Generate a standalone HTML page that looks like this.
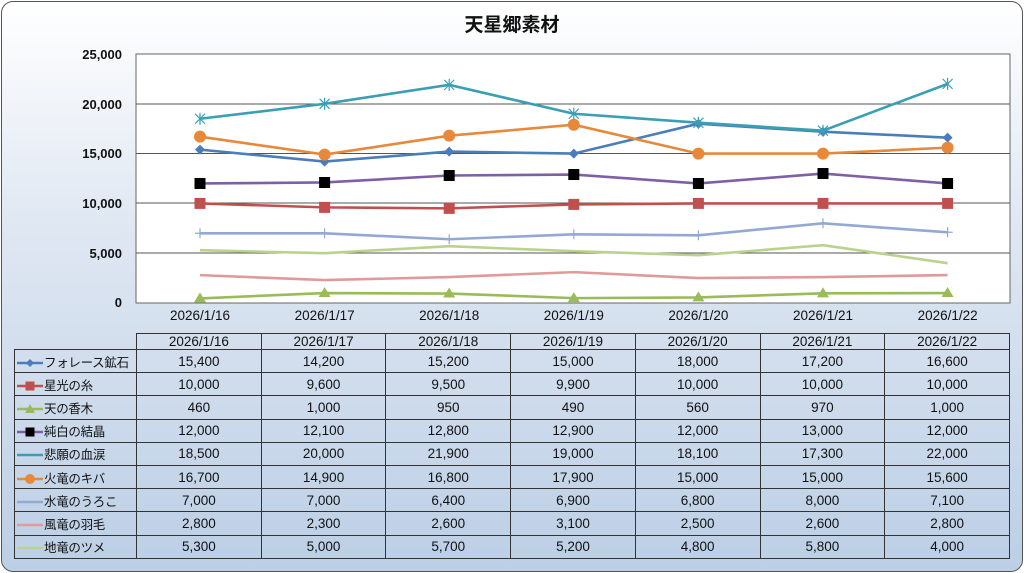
<!DOCTYPE html>
<html><head><meta charset="utf-8">
<style>
html,body{margin:0;padding:0;width:1024px;height:573px;overflow:hidden;background:#fff;}
#wrap{position:absolute;left:1px;top:1px;width:1020px;height:569px;border:1px solid #555;border-radius:12px;
background:linear-gradient(to bottom,#ffffff 0%,#dfe7f2 40%,#bccfe6 100%);overflow:hidden;}
table{position:absolute;left:14px;top:333px;width:996px;table-layout:fixed;border-collapse:collapse;font-family:"Liberation Sans","Noto Sans CJK JP",sans-serif;font-size:13.5px;color:#111;}
td{border:1px solid #333;padding:0;height:22.2px;text-align:center;white-space:nowrap;overflow:hidden;}
tr.h td{height:15px;line-height:14px;}
td.l{text-align:left;font-size:12.5px;letter-spacing:-0.3px;}
svg.m{vertical-align:-1px;margin:0 1px 0 2px;}
</style></head><body>
<div id="wrap"></div>
<svg width="1024" height="573" style="position:absolute;left:0;top:0" id="s">
<text x="512" y="31" text-anchor="middle" font-family="Liberation Sans,Noto Sans CJK JP,sans-serif" font-size="19" font-weight="bold" fill="#111">天星郷素材</text>
<rect x="136" y="54" width="874" height="249" fill="#fff" stroke="#666"/>
<g stroke="#555" stroke-width="1">
<line x1="136" y1="104" x2="1010" y2="104"/><line x1="136" y1="153.5" x2="1010" y2="153.5"/>
<line x1="136" y1="203" x2="1010" y2="203"/><line x1="136" y1="253" x2="1010" y2="253"/>
</g>
<g font-family="Liberation Sans,Noto Sans CJK JP,sans-serif" font-size="13" fill="#111" text-anchor="end" font-weight="bold">
<text x="122" y="59">25,000</text><text x="122" y="109">20,000</text><text x="122" y="158">15,000</text>
<text x="122" y="208">10,000</text><text x="122" y="258">5,000</text><text x="122" y="307">0</text>
</g>
<g font-family="Liberation Sans,Noto Sans CJK JP,sans-serif" font-size="13.5" fill="#111" text-anchor="middle">
<text x="200" y="320">2026/1/16</text><text x="324.6" y="320">2026/1/17</text><text x="449.2" y="320">2026/1/18</text>
<text x="573.8" y="320">2026/1/19</text><text x="698.4" y="320">2026/1/20</text><text x="823" y="320">2026/1/21</text><text x="947.6" y="320">2026/1/22</text>
</g>
<g id="series"></g>
</svg>
<table>
<colgroup><col style="width:122px"><col><col><col><col><col><col><col></colgroup>
<tr class="h"><td style="border:none;border-right:1px solid #333"></td><td>2026/1/16</td><td>2026/1/17</td><td>2026/1/18</td><td>2026/1/19</td><td>2026/1/20</td><td>2026/1/21</td><td>2026/1/22</td></tr>
<tr><td class="l"><svg class="m" width="26" height="10"><line x1="0" y1="5" x2="26" y2="5" stroke="#4a7ebb" stroke-width="2.5"/><polygon points="13,1 17,5 13,9 9,5" fill="#4a7ebb"/></svg>フォレース鉱石</td><td>15,400</td><td>14,200</td><td>15,200</td><td>15,000</td><td>18,000</td><td>17,200</td><td>16,600</td></tr>
<tr><td class="l"><svg class="m" width="26" height="10"><line x1="0" y1="5" x2="26" y2="5" stroke="#c0504d" stroke-width="2.5"/><rect x="8.5" y="0.5" width="9" height="9" fill="#c0504d"/></svg>星光の糸</td><td>10,000</td><td>9,600</td><td>9,500</td><td>9,900</td><td>10,000</td><td>10,000</td><td>10,000</td></tr>
<tr><td class="l"><svg class="m" width="26" height="10"><line x1="0" y1="5" x2="26" y2="5" stroke="#9bbb59" stroke-width="2.5"/><polygon points="13,0 18,9 8,9" fill="#9bbb59"/></svg>天の香木</td><td>460</td><td>1,000</td><td>950</td><td>490</td><td>560</td><td>970</td><td>1,000</td></tr>
<tr><td class="l"><svg class="m" width="26" height="10"><line x1="0" y1="5" x2="26" y2="5" stroke="#7f5fa8" stroke-width="2.5"/><rect x="8.5" y="0.5" width="9" height="9" fill="#000"/></svg>純白の結晶</td><td>12,000</td><td>12,100</td><td>12,800</td><td>12,900</td><td>12,000</td><td>13,000</td><td>12,000</td></tr>
<tr><td class="l"><svg class="m" width="26" height="10"><line x1="0" y1="5" x2="26" y2="5" stroke="#3a9fb5" stroke-width="2.5"/></svg>悲願の血涙</td><td>18,500</td><td>20,000</td><td>21,900</td><td>19,000</td><td>18,100</td><td>17,300</td><td>22,000</td></tr>
<tr><td class="l"><svg class="m" width="26" height="10"><line x1="0" y1="5" x2="26" y2="5" stroke="#e8883a" stroke-width="2.5"/><circle cx="13" cy="5" r="5" fill="#e8883a"/></svg>火竜のキバ</td><td>16,700</td><td>14,900</td><td>16,800</td><td>17,900</td><td>15,000</td><td>15,000</td><td>15,600</td></tr>
<tr><td class="l"><svg class="m" width="26" height="10"><line x1="0" y1="5" x2="26" y2="5" stroke="#93a9d4" stroke-width="2.5"/></svg>水竜のうろこ</td><td>7,000</td><td>7,000</td><td>6,400</td><td>6,900</td><td>6,800</td><td>8,000</td><td>7,100</td></tr>
<tr><td class="l"><svg class="m" width="26" height="10"><line x1="0" y1="5" x2="26" y2="5" stroke="#e09a9a" stroke-width="2.5"/></svg>風竜の羽毛</td><td>2,800</td><td>2,300</td><td>2,600</td><td>3,100</td><td>2,500</td><td>2,600</td><td>2,800</td></tr>
<tr><td class="l"><svg class="m" width="26" height="10"><line x1="0" y1="5" x2="26" y2="5" stroke="#b9d38f" stroke-width="2.5"/></svg>地竜のツメ</td><td>5,300</td><td>5,000</td><td>5,700</td><td>5,200</td><td>4,800</td><td>5,800</td><td>4,000</td></tr>
</table>
<script>
var S=[
["#b9d38f",[5300,5000,5700,5200,4800,5800,4000],""],
["#e09a9a",[2800,2300,2600,3100,2500,2600,2800],""],
["#93a9d4",[7000,7000,6400,6900,6800,8000,7100],"plus"],
["#9bbb59",[460,1000,950,490,560,970,1000],"tri"],
["#c0504d",[10000,9600,9500,9900,10000,10000,10000],"sq"],
["#7f5fa8",[12000,12100,12800,12900,12000,13000,12000],"bsq"],
["#4a7ebb",[15400,14200,15200,15000,18000,17200,16600],"dia"],
["#e8883a",[16700,14900,16800,17900,15000,15000,15600],"circ"],
["#3a9fb5",[18500,20000,21900,19000,18100,17300,22000],"star"]];
var g=document.getElementById('series'),h='';
function X(i){return 200+124.6*i}function Y(v){return 303-v*249/25000}
S.forEach(function(s){var p=s[1].map(function(v,i){return X(i)+','+Y(v)}).join(' ');
h+='<polyline points="'+p+'" fill="none" stroke="'+s[0]+'" stroke-width="2.6"/>';
s[1].forEach(function(v,i){var x=X(i),y=Y(v),c=s[0];
if(s[2]=='sq')h+='<rect x="'+(x-5.5)+'" y="'+(y-5.5)+'" width="11" height="11" fill="'+c+'"/>';
if(s[2]=='bsq')h+='<rect x="'+(x-5.5)+'" y="'+(y-5.5)+'" width="11" height="11" fill="#000"/>';
if(s[2]=='tri')h+='<polygon points="'+x+','+(y-6)+' '+(x-6)+','+(y+4)+' '+(x+6)+','+(y+4)+'" fill="'+c+'"/>';
if(s[2]=='dia')h+='<polygon points="'+x+','+(y-5)+' '+(x+5)+','+y+' '+x+','+(y+5)+' '+(x-5)+','+y+'" fill="'+c+'"/>';
if(s[2]=='circ')h+='<circle cx="'+x+'" cy="'+y+'" r="6" fill="'+c+'"/>';
if(s[2]=='plus')h+='<path d="M'+(x-5)+' '+y+'h10M'+x+' '+(y-5)+'v10" stroke="'+c+'" stroke-width="1.2"/>';
if(s[2]=='star')h+='<path d="M'+(x-5)+' '+(y-5)+'l10 10M'+(x+5)+' '+(y-5)+'l-10 10M'+x+' '+(y-6)+'v12" stroke="'+c+'" stroke-width="1.2"/>';
});});
g.innerHTML=h;
</script>
</body></html>
